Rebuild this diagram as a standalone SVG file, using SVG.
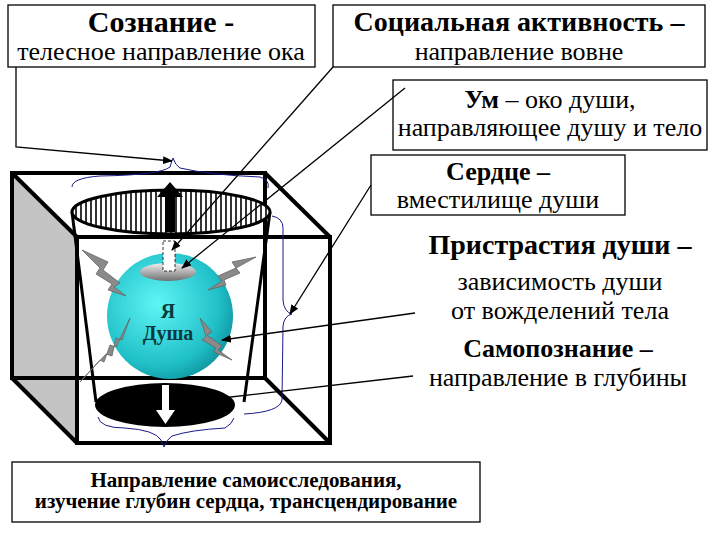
<svg xmlns="http://www.w3.org/2000/svg" width="720" height="540" viewBox="0 0 720 540">
<defs>
<style>
.box{fill:#fff;stroke:#000;stroke-width:1.3}
.c{stroke:#000;stroke-width:1.3;fill:none}
.cube{stroke:#000;stroke-width:4;fill:none}
.bolt{fill:#8a8a8a;stroke:#666;stroke-width:0.8}
.brace{fill:none;stroke:#1a1a8a;stroke-width:1}
</style>
<marker id="ah" markerWidth="10" markerHeight="8" refX="9" refY="4" orient="auto" markerUnits="userSpaceOnUse"><path d="M0,0 L10,4 L0,8 Z" fill="#000"/></marker>
<radialGradient id="sph" cx="0.4" cy="0.4" r="0.7"><stop offset="0" stop-color="#5ff5f5"/><stop offset="0.7" stop-color="#20c0c8"/><stop offset="1" stop-color="#0a8a95"/></radialGradient>
<linearGradient id="hl" x1="0" y1="0" x2="0" y2="1"><stop offset="0" stop-color="#f0f0f0"/><stop offset="1" stop-color="#707070"/></linearGradient>
<pattern id="hatch" width="5" height="10" patternUnits="userSpaceOnUse"><rect width="5" height="10" fill="#fff"/><line x1="1" y1="0" x2="1" y2="10" stroke="#000" stroke-width="1.6"/></pattern>
</defs>
<g id="cube">
<polygon points="12,173 77,237 77,443 12,378" fill="#c4c4c4"/>
<rect class="cube" x="12" y="173" width="253" height="205"/>
<rect class="cube" x="77" y="237" width="253" height="206"/>
<line class="cube" x1="12" y1="173" x2="77" y2="237"/>
<line class="cube" x1="265" y1="173" x2="330" y2="237"/>
<line class="cube" x1="12" y1="378" x2="77" y2="443"/>
<line class="cube" x1="265" y1="378" x2="330" y2="443"/>
</g>
<g id="cup">
<ellipse cx="165" cy="405" rx="70" ry="22" fill="#000"/>
<path d="M162,385 h7 v25 h6 l-9.5,14 l-9.5,-14 h6 z" fill="#fff"/>
<line x1="72" y1="212" x2="96" y2="402" stroke="#000" stroke-width="3"/>
<line x1="270" y1="212" x2="244" y2="402" stroke="#000" stroke-width="3"/>
<ellipse cx="171" cy="212" rx="99" ry="22" fill="url(#hatch)" stroke="#000" stroke-width="3"/>
<path d="M165,232 v-35 h-8 l13,-15 l13,15 h-8 v35 z" fill="#000"/>
</g>
<g id="soul">
<circle cx="170" cy="316" r="63" fill="url(#sph)"/>
<ellipse cx="168" cy="272" rx="28" ry="9" fill="url(#hl)"/>
<rect x="163" y="241" width="12" height="30" fill="#fff" stroke="#000" stroke-width="0.8" stroke-dasharray="3,2"/>
<text x="168" y="318" font-family="'Liberation Serif','DejaVu Serif',serif" font-weight="bold" font-size="20" text-anchor="middle" fill="#0a3a40">Я</text>
<text x="168" y="340" font-family="'Liberation Serif','DejaVu Serif',serif" font-weight="bold" font-size="20" text-anchor="middle" fill="#0a3a40">Душа</text>
</g>
<g id="bolts">
<polygon class="bolt" points="82,250 108,262 103,270 120,283 114,287 126,296 108,290 112,284 96,274 100,268"/>
<polygon class="bolt" points="256,257 232,262 236,268 218,276 222,281 208,290 226,285 224,280 240,273 236,268"/>
<polygon class="bolt" points="200,318 212,332 207,335 222,346 218,350 232,360 214,352 216,348 202,340 206,336"/>
<polygon class="bolt" points="130,318 122,340 116,338 112,356 106,354 80,382 100,360 104,362 110,345 116,347"/>
</g>
<g id="braces">
<path class="brace" d="M72,187 Q72,178 100,176 Q160,175 170,167 Q172,160 173,158 Q175,165 180,168 Q210,175 260,177 Q270,180 268,188"/>
<path class="brace" d="M272,216 Q283,218 283,228 L283,300 Q284,312 292,314 Q284,316 283,326 L282,400 Q280,412 244,414"/>
<path class="brace" d="M98,417 Q100,428 125,428 Q155,430 161,440 Q163,445 164,447 Q166,440 172,436 Q190,430 225,428 Q232,424 234,418"/>
</g>
<g font-family="'Liberation Serif','DejaVu Serif',serif" font-size="26" text-anchor="middle" fill="#000">
<g id="n1"><rect class="box" x="8" y="5" width="307" height="62"/>
<text x="161" y="32" font-weight="bold" font-size="30">Сознание -</text>
<text x="161" y="60">телесное направление ока</text></g>
<g id="n2"><rect class="box" x="333" y="5" width="372" height="62"/>
<text x="519" y="31" font-weight="bold" font-size="28">Социальная активность –</text>
<text x="519" y="60">направление вовне</text></g>
<g id="n3"><rect class="box" x="393" y="80" width="314" height="70"/>
<text x="550" y="108"><tspan font-weight="bold">Ум</tspan> – око души,</text>
<text x="550" y="136">направляющее душу и тело</text></g>
<g id="n4"><rect class="box" x="371" y="155" width="254" height="60"/>
<text x="498" y="180" font-weight="bold">Сердце –</text>
<text x="498" y="208">вместилище души</text></g>
<g id="n5">
<text x="560" y="254" font-weight="bold" font-size="28">Пристрастия души –</text>
<text x="560" y="290">зависимость души</text>
<text x="560" y="319">от вожделений тела</text></g>
<g id="n6">
<text x="558" y="357" font-weight="bold">Самопознание –</text>
<text x="558" y="386">направление в глубины</text></g>
<g id="n7"><rect class="box" x="12" y="462" width="468" height="60"/>
<text x="246" y="487" font-weight="bold" font-size="21">Направление самоисследования,</text>
<text x="246" y="508" font-weight="bold" font-size="21">изучение глубин сердца, трансцендирование</text></g>
</g>
<g id="connectors">
<polyline class="c" points="16,67 16,147 172,161" marker-end="url(#ah)"/>
<line class="c" x1="333" y1="67" x2="172" y2="250" marker-end="url(#ah)"/>
<line class="c" x1="405" y1="88" x2="182" y2="268" marker-end="url(#ah)"/>
<line class="c" x1="371" y1="185" x2="290" y2="314" marker-end="url(#ah)"/>
<line class="c" x1="415" y1="313" x2="222" y2="340" marker-end="url(#ah)"/>
<line class="c" x1="413" y1="376" x2="222" y2="398"/>
</g>
</svg>
